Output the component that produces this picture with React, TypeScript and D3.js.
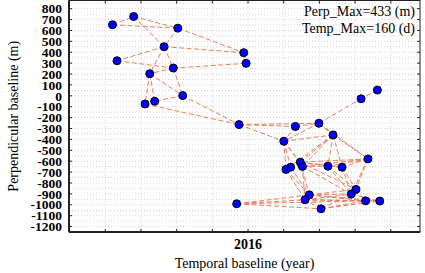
import React from "react";
import * as d3 from "d3";

// acquisition dates (decimal year) and perpendicular baselines (m)
const times = [
  2015.367, 2015.466, 2015.672, 2015.608, 2015.388, 2015.651, 2015.541, 2015.695, 2015.564, 2015.519,
  2015.98, 2015.991, 2016.604, 2016.528, 2015.958, 2016.221, 2016.331, 2016.167, 2016.397, 2016.56,
  2016.244, 2016.254, 2016.199, 2016.177, 2016.373, 2016.439, 2016.504, 2016.482, 2016.286, 2016.266,
  2015.947, 2016.341, 2016.549, 2016.615,
];
const perps = [
  652, 728, 621, 451, 322, 255, 203, 2, -50, -75,
  396, 298, 53, -27, -264, -282, -252, -417, -359, -579,
  -609, -648, -655, -676, -646, -655, -859, -902, -909, -954,
  -991, -1037, -964, -966,
];
// interferometric pairs (1-based indices into the arrays above)
const pairs: [number, number][] = [
  [1, 2], [1, 3], [2, 3], [2, 4], [3, 4], [4, 5], [4, 7], [4, 6], [5, 6], [6, 7],
  [7, 8], [7, 9], [7, 10], [9, 10], [8, 9], [6, 8], [3, 11], [4, 11], [11, 12], [6, 12],
  [8, 15], [10, 15],
  [15, 16], [15, 17], [15, 18], [16, 17], [16, 18], [17, 14], [13, 14], [17, 19], [18, 19],
  [19, 20], [19, 21], [19, 22], [19, 25], [19, 26], [19, 24], [18, 21], [18, 23], [18, 24],
  [18, 22], [20, 21], [20, 22], [20, 25], [20, 26], [20, 27], [20, 28], [21, 22], [21, 25],
  [21, 26], [23, 24], [22, 23], [22, 25], [25, 26], [21, 29], [22, 30], [23, 29], [24, 30],
  [24, 29], [26, 27], [26, 28], [25, 27], [25, 28], [21, 27], [22, 28], [27, 28], [29, 30],
  [29, 27], [29, 28], [30, 28], [29, 33], [29, 34], [30, 33], [30, 34], [27, 33], [28, 34],
  [33, 34], [32, 29], [32, 30], [32, 28], [32, 33], [32, 34], [31, 29], [31, 30], [31, 32],
  [31, 33], [17, 20], [17, 18],
];
const yTicks = d3.range(-1200, 801, 100);
const yGrid = d3.range(-1250, 876, 50);
const xTicks = d3.range(-4, 5).map((k) => 2016 + k / 6);
const xLabels: Record<string, string> = { "2016": "2016" };
const infoLines = ["Perp_Max=433 (m)", "Temp_Max=160 (d)"];

export default function App() {
  const W = 425, H = 273;
  const L = 69, R = 420, T = 0.5, B = 232;
  const x = d3.scaleLinear().domain([2015.164, 2016.803]).range([L, R]);
  const y = d3.scaleLinear().domain([-1250, 875]).range([B, T]);
  const font = "Liberation Serif";
  const edgeColor = "#e8714f";
  return (
    <svg width={W} height={H} style={{ position: "absolute", left: 0, top: 0, background: "#fff" }}>
      <rect x={0} y={0} width={W} height={H} fill="#fff" />
      {/* grid */}
      <g stroke="#c8c8c8" strokeWidth={0.8} strokeDasharray="1,2">
        {yGrid.map((v) => (
          <line key={"gy" + v} x1={L} x2={R} y1={y(v)} y2={y(v)} />
        ))}
        {xTicks.map((v) => (
          <line key={"gx" + v} x1={x(v)} x2={x(v)} y1={T} y2={B} />
        ))}
      </g>
      {/* edges */}
      <g stroke={edgeColor} strokeWidth={1} strokeDasharray="5,2.5" opacity={0.9}>
        {pairs.map(([a, b], i) => (
          <line key={"e" + i} x1={x(times[a - 1])} y1={y(perps[a - 1])} x2={x(times[b - 1])} y2={y(perps[b - 1])} />
        ))}
      </g>
      {/* points */}
      <g fill="#0000ff" stroke="#000" strokeWidth={1}>
        {times.map((t, i) => (
          <circle key={"p" + i} cx={x(t)} cy={y(perps[i])} r={4} />
        ))}
      </g>
      {/* frame */}
      <rect x={L} y={T} width={R - L} height={B - T} fill="none" stroke="#222" strokeWidth={1} />
      <line x1={L} x2={L} y1={T} y2={B} stroke="#222" strokeWidth={2} />
      <line x1={L} x2={R} y1={B} y2={B} stroke="#222" strokeWidth={2} />
      {/* ticks */}
      <g stroke="#222" strokeWidth={1}>
        {yTicks.map((v) => (
          <g key={"ty" + v}>
            <line x1={L} x2={L + 3} y1={y(v)} y2={y(v)} />
            <line x1={R} x2={R - 3} y1={y(v)} y2={y(v)} />
          </g>
        ))}
        {xTicks.map((v) => (
          <g key={"tx" + v}>
            <line x1={x(v)} x2={x(v)} y1={B} y2={B - 3} />
            <line x1={x(v)} x2={x(v)} y1={T} y2={T + 3} />
          </g>
        ))}
      </g>
      <g fill="#000" textAnchor="end">
        {yTicks.map((v) => (
          <text key={"ly" + v} x={62} y={y(v)} dy="0.35em" fontFamily={font} fontSize={13.5} fontWeight={700}>{v}</text>
        ))}
      </g>
      <g fill="#000" textAnchor="middle">
        {xTicks.map((v) => {
          const k = (Math.round(v * 1000) / 1000).toString();
          return xLabels[k] ? (
            <text key={"lx" + v} x={x(v)} y={249} fontFamily={font} fontSize={14} fontWeight={700}>{xLabels[k]}</text>
          ) : null;
        })}
      </g>
      <text x={(L + R) / 2} y={268} textAnchor="middle" fill="#000" fontFamily={font} fontSize={14}>Temporal baseline (year)</text>
      <text transform={`translate(18,${(T + B) / 2}) rotate(-90)`} textAnchor="middle" fill="#000" fontFamily={font} fontSize={14}>
        Perpendicular baseline (m)
      </text>
      <g fill="#000" textAnchor="end">
        {infoLines.map((s, i) => (
          <text key={s} x={415} y={16 + i * 17} fontFamily={font} fontSize={14}>{s}</text>
        ))}
      </g>
    </svg>
  );
}
